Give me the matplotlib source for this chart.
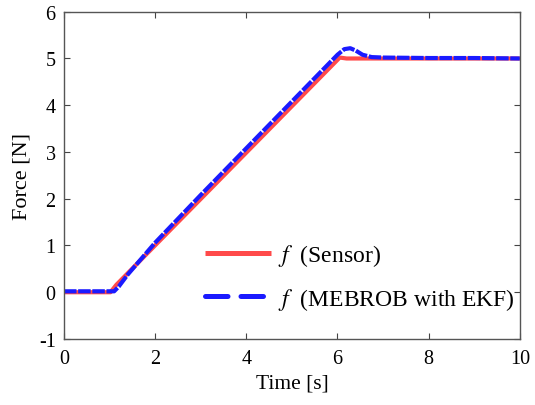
import matplotlib
matplotlib.use("Agg")
import matplotlib.pyplot as plt

# Data
t_sensor = [0.0, 1.02, 1.15, 6.05, 6.2, 10.0]
f_sensor = [0.0, 0.0, 0.16, 5.02, 5.0, 5.0]

t_ekf = [0.0, 1.1, 1.2, 1.4, 1.7, 2.0, 3.0, 4.0, 5.0, 5.8, 6.0, 6.15, 6.28, 6.4, 6.55, 6.75, 7.0, 8.0, 9.0, 10.0]
f_ekf = [0.02, 0.02, 0.12, 0.38, 0.72, 1.06, 2.08, 3.08, 4.08, 4.88, 5.08, 5.2, 5.22, 5.17, 5.08, 5.03, 5.02, 5.01, 5.01, 5.0]

x_ticks = [0, 2, 4, 6, 8, 10]
y_ticks = [-1, 0, 1, 2, 3, 4, 5, 6]

plt.rcParams['font.family'] = ['Liberation Serif', 'DejaVu Serif']
plt.rcParams['mathtext.fontset'] = 'stix'
plt.rcParams['axes.unicode_minus'] = False

fig = plt.figure(figsize=(5.35, 4.06), dpi=100)
ax = fig.add_axes([0.1196, 0.1626, 0.852, 0.806])

ax.plot(t_sensor, f_sensor, color='#ff4a4a', lw=3.0, solid_capstyle='butt',
        label=r'$f$  (Sensor)')
ax.plot(t_ekf, f_ekf, color='#1a1aff', lw=3.0, ls=(0, (3.0, 0.4)),
        label=r'$f$  (MEBROB with EKF)')

ax.set_xlim(0, 10)
ax.set_ylim(-1, 6)
ax.set_xticks(x_ticks)
ax.set_yticks(y_ticks)
ax.tick_params(direction='in', labelsize=14.5, length=4, color='#444444', top=True, right=True,
               labeltop=False, labelright=False)
ax.tick_params(axis='x', pad=7)
ax.tick_params(axis='y', pad=6)
for s in ax.spines.values():
    s.set_color('#555555')
    s.set_linewidth(1.0)

ax.set_xlabel('Time [s]', fontsize=15.5, labelpad=4)
ax.set_ylabel('Force [N]', fontsize=16, labelpad=5)

leg = ax.legend(loc='lower right', fontsize=17, frameon=False, handlelength=2.8,
                bbox_to_anchor=(1.01, 0.055), labelspacing=0.75, handletextpad=0.3,
                borderaxespad=0.0)
for h in leg.legend_handles:
    h.set_linewidth(3.6)
leg.legend_handles[1].set_linestyle((0, (4.5, 2.6)))
leg.legend_handles[1].set_dash_capstyle('round')

fig.savefig('out.png', dpi=100)
